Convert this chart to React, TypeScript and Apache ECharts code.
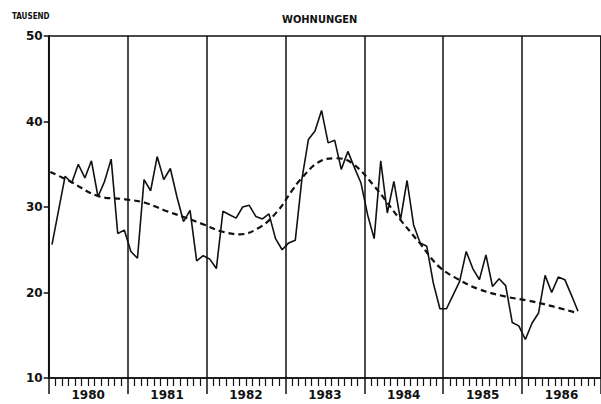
import React, { useEffect, useRef } from "react";
import * as echarts from "echarts";

const years = ["1980", "1981", "1982", "1983", "1984", "1985", "1986"];
const startYear = 1980;
const endYear = 1987;

// Monthly values (thousand dwellings), Jan 1980 .. Sep 1986
const values1980 = [25.6, 29.6, 33.6, 32.8, 35.0, 33.4, 35.4, 31.2, 33.0, 35.6, 26.9, 27.3];
const values1981 = [24.8, 24.0, 33.2, 31.9, 35.9, 33.2, 34.5, 31.2, 28.3, 29.6, 23.7, 24.3];
const values1982 = [23.9, 22.8, 29.5, 29.1, 28.7, 30.0, 30.2, 28.9, 28.6, 29.2, 26.3, 25.0];
const values1983 = [25.8, 26.1, 33.2, 37.9, 38.9, 41.3, 37.5, 37.8, 34.4, 36.5, 34.6, 32.8];
const values1984 = [29.1, 26.3, 35.4, 29.3, 33.0, 28.5, 33.1, 27.9, 25.8, 25.4, 21.1, 18.1];
const values1985 = [18.1, 19.7, 21.3, 24.8, 22.8, 21.5, 24.4, 20.7, 21.6, 20.8, 16.5, 16.1];
const values1986 = [14.5, 16.4, 17.6, 22.0, 20.0, 21.8, 21.5, 19.7, 17.8];

// Trend (dashed) curve, read at selected times
const trendTimes = [1980.02, 1980.27, 1980.62, 1980.97, 1981.22, 1981.47, 1981.72, 1981.98, 1982.17, 1982.42, 1982.67, 1982.89, 1983.09, 1983.18, 1983.43, 1983.65, 1983.85, 1984.13, 1984.44, 1984.70, 1984.95, 1985.20, 1985.45, 1985.80, 1986.05, 1986.38, 1986.70];
const trendValues = [34.1, 33.0, 31.3, 30.9, 30.5, 29.6, 28.8, 27.9, 27.2, 26.8, 27.6, 29.4, 32.0, 33.1, 35.3, 35.7, 35.1, 32.4, 28.7, 25.8, 23.0, 21.5, 20.4, 19.5, 19.1, 18.4, 17.6];

const yTicks = [10, 20, 30, 40, 50];

export default function App() {
  const ref = useRef<HTMLDivElement>(null);
  useEffect(() => {
    if (!ref.current) return;
    const chart = echarts.init(ref.current, null, { renderer: "svg" });
    const monthly = [
      ...values1980, ...values1981, ...values1982, ...values1983,
      ...values1984, ...values1985, ...values1986,
    ];
    const solidData = monthly.map((v, i) => [startYear + (i + 0.5) / 12, v]);
    const trendData = trendTimes.map((t, i) => [t, trendValues[i]]);
    const font = "'DejaVu Sans', sans-serif";
    const condensed = "'DejaVu Sans Condensed', 'DejaVu Sans', sans-serif";
    chart.setOption({
      animation: false,
      backgroundColor: "#ffffff",
      title: [
        {
          text: "WOHNUNGEN",
          left: 277,
          top: 9,
          textStyle: { fontFamily: condensed, fontSize: 11, fontWeight: "bold", color: "#111" },
        },
        {
          text: "TAUSEND",
          left: 7,
          top: 7,
          textStyle: { fontFamily: condensed, fontSize: 8, fontWeight: "bold", color: "#111" },
        },
      ],
      grid: {
        left: 48.7,
        top: 36,
        width: 553,
        height: 342,
        show: true,
        borderColor: "#111",
        borderWidth: 1.5,
        backgroundColor: "transparent",
      },
      xAxis: [
        {
          type: "value",
          min: startYear,
          max: endYear,
          interval: 1,
          position: "bottom",
          axisLine: { show: true, lineStyle: { color: "#111", width: 1.5 } },
          axisTick: { show: true, length: 16, lineStyle: { color: "#111", width: 1.5 } },
          minorTick: { show: true, splitNumber: 12, length: 8, lineStyle: { color: "#111", width: 1.2 } },
          axisLabel: { show: false },
          splitLine: { show: true, lineStyle: { color: "#111", width: 1.5 } },
        },
        {
          type: "category",
          data: years,
          position: "bottom",
          boundaryGap: true,
          axisLine: { show: false },
          axisTick: { show: false },
          splitLine: { show: false },
          axisLabel: {
            show: true,
            interval: 0,
            margin: 11,
            fontFamily: font,
            fontSize: 12,
            fontWeight: "bold",
            color: "#111",
          },
        },
      ],
      yAxis: {
        type: "value",
        min: yTicks[0],
        max: yTicks[yTicks.length - 1],
        interval: 10,
        axisLine: { show: true, lineStyle: { color: "#111", width: 1.5 } },
        axisTick: { show: true, length: 5, inside: false, lineStyle: { color: "#111", width: 1.5 } },
        axisLabel: {
          margin: 6,
          fontFamily: font,
          fontSize: 12,
          fontWeight: "bold",
          color: "#111",
        },
        splitLine: { show: false },
      },
      series: [
        {
          type: "line",
          xAxisIndex: 0,
          data: solidData,
          showSymbol: false,
          symbol: "none",
          lineStyle: { color: "#111", width: 1.6 },
          z: 3,
        },
        {
          type: "line",
          xAxisIndex: 0,
          data: trendData,
          smooth: 0.4,
          showSymbol: false,
          symbol: "none",
          lineStyle: { color: "#111", width: 2.2, type: [6, 4] },
          z: 4,
        },
      ],
    });
    return () => chart.dispose();
  }, []);
  return (
    <div
      ref={ref}
      style={{ position: "fixed", left: 0, top: 0, width: 601, height: 404, background: "#fff" }}
    />
  );
}
